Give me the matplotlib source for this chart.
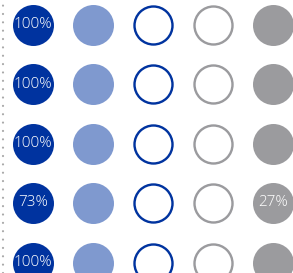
import matplotlib
matplotlib.use("Agg")
import matplotlib.pyplot as plt

rows = ["R1", "R2", "R3", "R4", "R5"]
columns = ["c1", "c2", "c3", "c4", "c5"]
first_values = [100, 100, 100, 73, 100]
last_values = [0, 0, 0, 27, 0]

dark_blue = "#00339f"
light_blue = "#7f99cf"
gray = "#9b9b9e"

W, H = 293, 273
fig = plt.figure(figsize=(W / 100, H / 100), dpi=100)
ax = fig.add_axes([0, 0, 1, 1])
ax.set_xlim(-0.55, (W - 33) / 60)
ax.set_ylim((H - 24.5) / 59.5, -24.5 / 59.5)
ax.axis("off")

d_fill = 41 * 0.72
d_out = 38 * 0.72
lw = 2.4 * 0.72

for j, r in enumerate(rows):
    ax.scatter([0], [j], s=d_fill ** 2, color=dark_blue, linewidths=0, zorder=2)
    ax.scatter([1], [j], s=d_fill ** 2, color=light_blue, linewidths=0, zorder=2)
    ax.scatter([2], [j], s=d_out ** 2, facecolors="white", edgecolors=dark_blue, linewidths=lw, zorder=2)
    ax.scatter([3], [j], s=d_out ** 2, facecolors="white", edgecolors=gray, linewidths=lw, zorder=2)
    ax.scatter([4], [j], s=d_fill ** 2, color=gray, linewidths=0, zorder=2)
    if first_values[j] > 0:
        ax.text(0, j, f"{first_values[j]}%", color="white", fontsize=11,
                family="Open Sans", weight="light", ha="center", va="center", zorder=3)
    if last_values[j] > 0:
        ax.text(4, j, f"{last_values[j]}%", color="white", fontsize=11,
                family="Open Sans", weight="light", ha="center", va="center", zorder=3)

# dotted left border line
ax.axvline(-0.55 + 3 / 60, color="#a8a8a8", linestyle=(0, (0.01, 3.75)), linewidth=1.6,
           dash_capstyle="round", zorder=1)

fig.savefig("out.png", dpi=100)
